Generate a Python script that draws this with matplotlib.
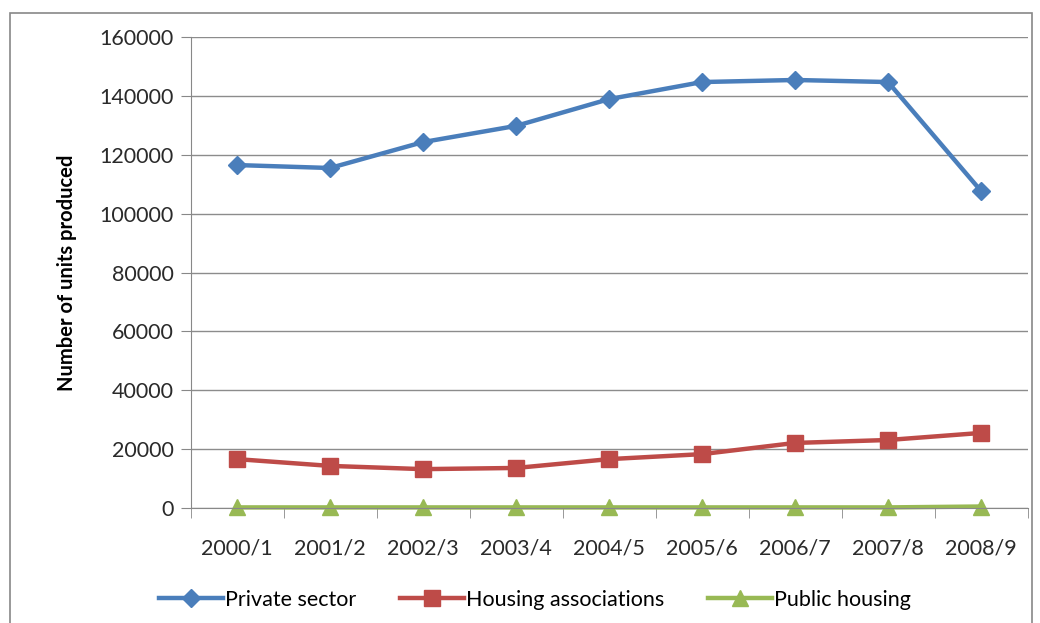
import numpy as np
import matplotlib.pyplot as plt
from matplotlib.patches import Rectangle

# data
years = ['2000/1', '2001/2', '2002/3', '2003/4', '2004/5', '2005/6', '2006/7', '2007/8', '2008/9']
private_sector = [116500, 115500, 124300, 129800, 138900, 144700, 145400, 144700, 107700]
housing_assoc = [16600, 14300, 13200, 13600, 16600, 18300, 22100, 23100, 25500]
public_housing = [200, 200, 200, 200, 200, 200, 200, 200, 500]
y_ticks = [0, 20000, 40000, 60000, 80000, 100000, 120000, 140000, 160000]

plt.rcParams['font.family'] = ['Lato', 'DejaVu Sans']

fig = plt.figure(figsize=(10.4, 6.23), dpi=100)
ax = fig.add_axes([0.1832, 0.1846, 0.8048, 0.756])

# outer chart-area border
fig.patches.append(Rectangle((10 / 1040, -0.05), 1022 / 1040, 1 - 13 / 623 + 0.05,
                             transform=fig.transFigure, fill=False,
                             edgecolor='#888888', linewidth=1.2))

x = np.arange(len(years))
ax.plot(x, private_sector, color='#4A7EBB', linewidth=3.2, marker='D', markersize=9.5,
        label='Private sector')
ax.plot(x, housing_assoc, color='#BE4B48', linewidth=3.2, marker='s', markersize=12,
        label='Housing associations')
ax.plot(x, public_housing, color='#98B954', linewidth=3.2, marker='^', markersize=12,
        label='Public housing', clip_on=False)

ax.set_xlim(-0.5, len(years) - 0.5)
ax.set_ylim(0, 160000)
ax.set_yticks(y_ticks)
ax.set_yticklabels([str(v) for v in y_ticks], fontsize=15.5, color='#2a2a2a')
ax.set_xticks(x)
ax.set_xticklabels(years, fontsize=15.5, color='#2a2a2a')
ax.tick_params(axis='x', length=0, pad=22)
ax.set_xticks(np.arange(-0.5, len(years)), minor=True)
ax.tick_params(axis='x', which='minor', length=7, color='#888888', direction='out')
ax.tick_params(axis='y', length=7, color='#888888', direction='out', pad=5)

ax.grid(axis='y', color='#8c8c8c', linewidth=1)
ax.set_axisbelow(True)
for s in ['top', 'right']:
    ax.spines[s].set_visible(False)
ax.spines['left'].set_color('#888888')
ax.spines['bottom'].set_color('#888888')

ax.set_ylabel('Number of units produced', fontsize=14.5, fontweight='bold', labelpad=16)

fig.legend(loc='center', bbox_to_anchor=(535 / 1040, 1 - 600 / 623), ncol=3,
           frameon=False, fontsize=15.5, columnspacing=2.0, handlelength=3.0,
           handletextpad=0.1)

fig.savefig('out.png', dpi=100)
